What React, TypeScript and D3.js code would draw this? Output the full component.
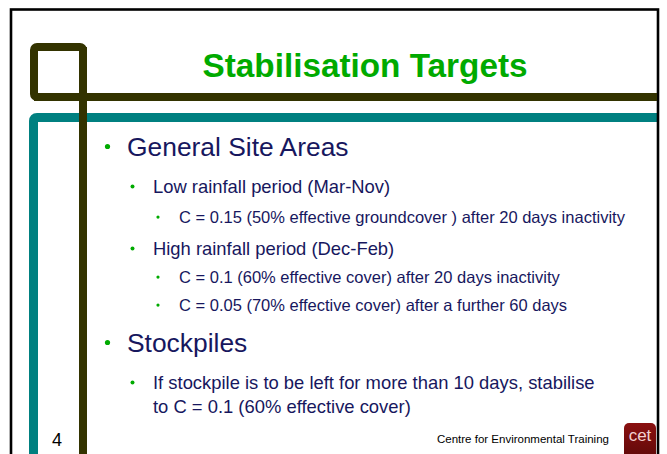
import React from "react";
import * as d3 from "d3";

const TITLE = "Stabilisation Targets";
const BULLET_LEVELS = [1, 2, 3, 2, 3, 3, 1, 2, 0];
const BULLET_TEXTS = [
  "General Site Areas",
  "Low rainfall period (Mar-Nov)",
  "C = 0.15 (50% effective groundcover ) after 20 days inactivity",
  "High rainfall period (Dec-Feb)",
  "C = 0.1 (60% effective cover) after 20 days inactivity",
  "C = 0.05 (70% effective cover) after a further 60 days",
  "Stockpiles",
  "If stockpile is to be left for more than 10 days, stabilise",
  "to C = 0.1 (60% effective cover)",
];
const BASELINES = [156, 193, 223, 255, 283, 311, 352, 389, 413];
const PAGE_NUMBER = "4";
const FOOTER = "Centre for Environmental Training";
const LOGO = "cet";

const W = 667;
const H = 454;
const FONT = "'Liberation Sans', Arial, Helvetica, sans-serif";
const NAVY = "#17175e";
const GREEN = "#00aa00";
const OLIVE = "#333300";
const TEAL = "#008080";

const levelStyle: Record<number, { x: number; bx: number; size: number; br: number }> = {
  0: { x: 153, bx: 0, size: 18.4, br: 0 },
  1: { x: 127, bx: 107.5, size: 26.4, br: 2.6 },
  2: { x: 153, bx: 132.5, size: 18.4, br: 2 },
  3: { x: 179, bx: 158, size: 16.5, br: 1.6 },
};

export default function App() {
  const y = d3.scaleLinear().domain([0, H]).range([0, H]);
  const lines = BULLET_TEXTS.map((t, i) => ({ t, lvl: BULLET_LEVELS[i], base: BASELINES[i] }));
  return (
    <svg
      width={W}
      height={H}
      style={{ position: "absolute", left: 0, top: 0, display: "block", background: "#fff" }}
      fontFamily={FONT}
    >
      <rect x={0} y={0} width={W} height={H} fill="#fff" />
      {/* teal frame (left + top) */}
      <path d={`M33.5,${H + 5} L33.5,121 Q33.5,117.5 37,117.5 L657,117.5`} fill="none" stroke={TEAL} strokeWidth={9} />
      {/* outer black frame */}
      <rect x={11} y={9.5} width={647} height={520} fill="none" stroke="#000" strokeWidth={2.6} />
      {/* olive square + lines */}
      <rect x={34} y={47} width={49} height={50} fill="none" stroke={OLIVE} strokeWidth={8} rx={3} />
      <line x1={34} x2={657} y1={97} y2={97} stroke={OLIVE} strokeWidth={8} />
      <line x1={83} x2={83} y1={47} y2={H} stroke={OLIVE} strokeWidth={8} />
      {/* title */}
      <text x={365} y={77} textAnchor="middle" fontSize={33.3} fontWeight="bold" fill={GREEN}>
        {TITLE}
      </text>
      {lines.map((l, i) => {
        const s = levelStyle[l.lvl];
        const yy = y(l.base);
        return (
          <g key={i}>
            {l.lvl > 0 && (
              <circle cx={s.bx} cy={yy - s.size * 0.36} r={s.br} fill={GREEN} />
            )}
            <text x={s.x} y={yy} fontSize={s.size} fill={NAVY}>
              {l.t}
            </text>
          </g>
        );
      })}
      <text x={52} y={446} fontSize={18} fill="#000">
        {PAGE_NUMBER}
      </text>
      <text x={437} y={443} fontSize={11.5} fill="#000">
        {FOOTER}
      </text>
      <defs>
        <linearGradient id="logoGrad" x1="0" y1="0" x2="0" y2="1">
          <stop offset="0" stopColor="#8a1010" />
          <stop offset="1" stopColor="#5a0808" />
        </linearGradient>
      </defs>
      <rect x={624} y={423} width={32} height={40} rx={5} fill="url(#logoGrad)" />
      <text x={640} y={441} textAnchor="middle" fontSize={17} fill="#f3d0d0">
        {LOGO}
      </text>
    </svg>
  );
}
